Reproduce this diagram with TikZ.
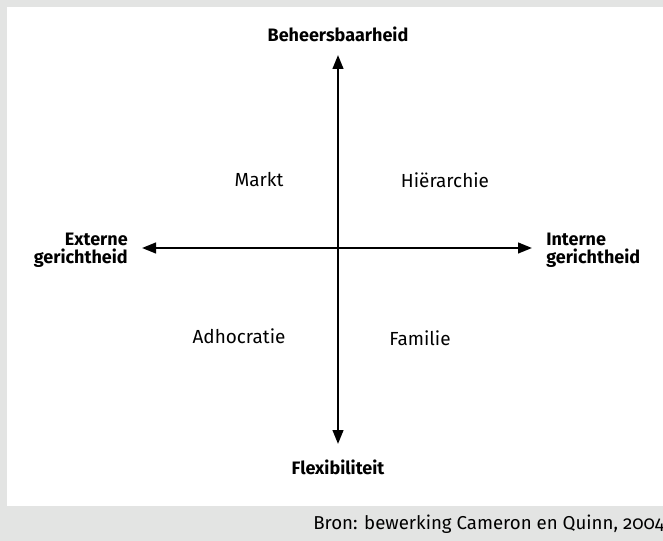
\documentclass[tikz,border=0pt]{standalone}
\usepackage{fontspec}
\setmainfont{Fira Sans}[Numbers=OldStyle]
\usetikzlibrary{arrows.meta}
\definecolor{pagegray}{HTML}{E3E4E3}
\begin{document}
\begin{tikzpicture}[x=0.75pt,y=-0.75pt,
  axis/.style={line width=1.7pt,-{Triangle[length=10.5pt,width=8pt]}},
  pole/.style={font=\fontsize{13.5}{13.8}\selectfont\bfseries,inner sep=0pt},
  quadrant/.style={font=\fontsize{14.2}{16}\selectfont,inner sep=0pt}]
  % page and panel
  \fill[pagegray] (0,0) rectangle (663,541);
  \fill[white] (7,7) rectangle (663,506);
  \useasboundingbox (0,0) rectangle (663,541);
  % axes
  \coordinate (c) at (338,248);
  \coordinate (top) at (338,55);
  \coordinate (bot) at (338,444);
  \coordinate (lft) at (142,248);
  \coordinate (rgt) at (532,248);
  \draw[axis] (c) -- (top);
  \draw[axis] (c) -- (bot);
  \draw[axis] (c) -- (lft);
  \draw[axis] (c) -- (rgt);
  % pole labels
  \node[pole] (beh) at (338,34) {Beheersbaarheid};
  \node[pole] (flex) at (338,467) {Flexibiliteit};
  \node[pole,anchor=east,align=right] (ext) at (128,250) {Externe\\gerichtheid};
  \node[pole,anchor=west,align=left] (int) at (546,250) {Interne\\gerichtheid};
  % quadrant labels
  \node[quadrant] (markt) at (259,180) {Markt};
  \node[quadrant] (hier) at (445,180) {Hiërarchie};
  \node[quadrant] (adho) at (239,336) {Adhocratie};
  \node[quadrant] (fam) at (420,338) {Familie};
  % source line
  \node[font=\fontsize{14}{16}\selectfont,inner sep=0pt,anchor=west] (src) at (313,524) {Bron: bewerking Cameron en Quinn, 2004};
\end{tikzpicture}
\end{document}
